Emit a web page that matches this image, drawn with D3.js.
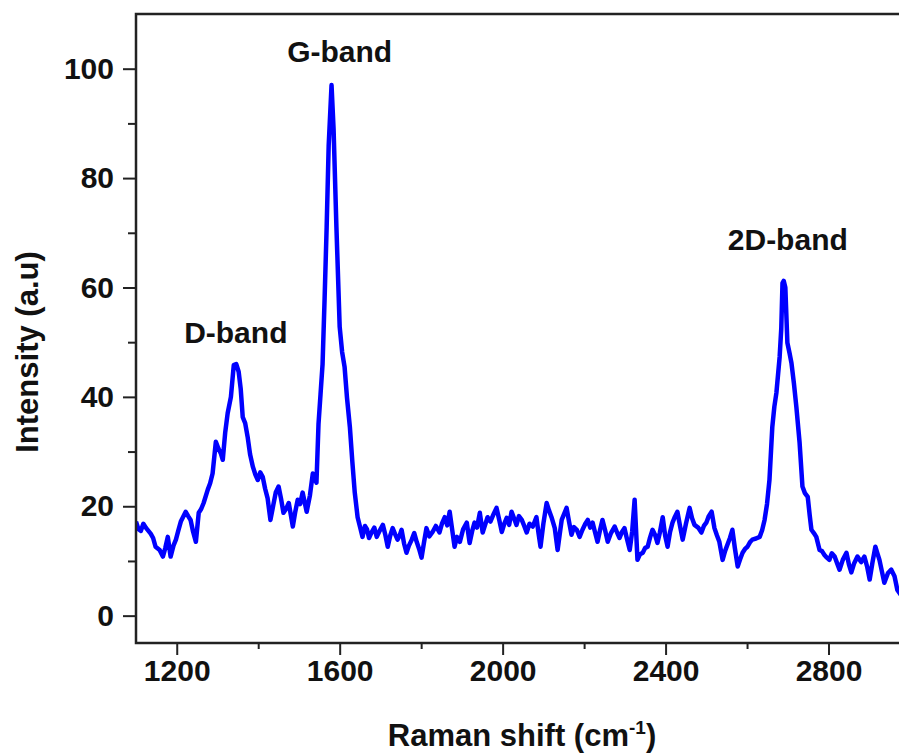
<!DOCTYPE html>
<html lang="en">
<head>
  <meta charset="UTF-8">
  <title>Raman spectrum</title>
  <script src="https://d3js.org/d3.v7.min.js"></script>
  <style>
    body { margin: 0; background: #fff; }
    svg { display: block; font-family: "Liberation Sans", Arial, sans-serif; }
  </style>
</head>
<body>
  <svg></svg>
  <script>
    // Raman shift (cm-1) and intensity (a.u)
    const shift = [1100, 1106, 1112, 1118, 1125, 1136, 1142, 1148, 1158, 1166, 1172, 1178, 1185, 1192, 1198, 1204, 1210, 1222, 1228, 1234,
      1240, 1247, 1254, 1260, 1266, 1276, 1282, 1288, 1296, 1302, 1308, 1313, 1319, 1325, 1333, 1340, 1346, 1352, 1357, 1362,
      1368, 1374, 1380, 1387, 1393, 1399, 1405, 1411, 1417, 1423, 1430, 1437, 1443, 1450, 1456, 1462, 1469, 1475, 1485, 1491,
      1497, 1503, 1509, 1519, 1527, 1534, 1543, 1548, 1553, 1558, 1563, 1568, 1573, 1580, 1585, 1592, 1600, 1606, 1612, 1618,
      1625, 1631, 1637, 1644, 1650, 1656, 1662, 1667, 1672, 1678, 1685, 1691, 1698, 1706, 1712, 1718, 1724, 1730, 1736, 1742,
      1747, 1752, 1758, 1764, 1770, 1777, 1783, 1789, 1795, 1801, 1807, 1813, 1820, 1828, 1836, 1845, 1851, 1858, 1864, 1870,
      1876, 1882, 1888, 1895, 1903, 1912, 1919, 1925, 1931, 1937, 1944, 1951, 1957, 1963, 1970, 1978, 1985, 1992, 1998, 2004,
      2010, 2016, 2022, 2028, 2034, 2040, 2047, 2053, 2059, 2066, 2074, 2083, 2088, 2093, 2100, 2108, 2114, 2120, 2128, 2135,
      2140, 2145, 2151, 2157, 2163, 2169, 2175, 2182, 2189, 2196, 2203, 2209, 2215, 2221, 2227, 2233, 2239, 2245, 2251, 2258,
      2266, 2275, 2281, 2287, 2293, 2299, 2305, 2312, 2318, 2324, 2331, 2337, 2344, 2350, 2356, 2362, 2368, 2374, 2380, 2386,
      2393, 2399, 2405, 2411, 2417, 2423, 2429, 2436, 2442, 2450, 2459, 2465, 2471, 2480, 2488, 2494, 2500, 2506, 2513, 2520,
      2526, 2532, 2540, 2546, 2552, 2558, 2564, 2570, 2577, 2583, 2589, 2595, 2601, 2607, 2613, 2622, 2631, 2637, 2643, 2649,
      2655, 2662, 2667, 2672, 2680, 2684, 2687, 2690, 2694, 2699, 2704, 2709, 2715, 2721, 2729, 2736, 2742, 2749, 2754, 2758,
      2764, 2770, 2778, 2784, 2790, 2796, 2802, 2808, 2815, 2821, 2827, 2835, 2844, 2850, 2856, 2863, 2871, 2880, 2888, 2895,
      2901, 2908, 2915, 2920, 2925, 2931, 2937, 2946, 2954, 2962, 2969, 2980];
    const intensity = [17.2, 15.8, 15.5, 16.8, 16, 15, 14.2, 12.6, 12, 10.8, 12.4, 14.4, 10.8, 12.8, 13.9, 15.6, 17.2, 19, 18.2, 17.5,
      15.4, 13.5, 18.8, 19.5, 20.6, 23, 24.2, 26, 31.8, 30.6, 29.7, 28.5, 33.5, 37, 40, 45.8, 46, 44.6, 41.5, 36.3,
      35.2, 32.7, 29.5, 27.2, 25.8, 24.8, 26.2, 25.4, 23.2, 21.5, 17.5, 20.2, 22.5, 23.6, 21.4, 18.8, 19.6, 20.6, 16.3, 19,
      21.2, 20.4, 22.5, 19, 22, 26, 24.3, 35, 40.5, 46, 58, 71, 86, 97, 89, 71, 52.8, 48.2, 45.5, 39.8,
      34.5, 28.2, 22.5, 18, 16.2, 14.4, 16.4, 15.8, 14.2, 15.2, 16.1, 14.4, 15.5, 16.6, 14.8, 12.6, 14.6, 16, 14.9, 13.9,
      14.6, 15.7, 13.2, 11.5, 12.8, 13.9, 15.1, 13.5, 12.2, 10.6, 13.4, 16, 14.5, 15.3, 16.4, 15.2, 16.8, 18, 16.5, 19,
      15.8, 12.6, 14.4, 13.5, 15.8, 17, 13.3, 15.4, 17, 16.1, 18.8, 15.2, 16.6, 18, 17.2, 18.6, 19.7, 17.4, 15.3, 16.8,
      17.9, 16.6, 19, 17.8, 16.6, 18.2, 17.5, 16.4, 15.2, 16.8, 16.3, 18, 15.1, 12.6, 16.8, 20.6, 19.2, 18, 16, 12,
      14.8, 17.5, 18.6, 19.7, 17.2, 14.8, 16.2, 15.7, 14.4, 15.7, 16.8, 17.5, 16.1, 17, 15.2, 13.5, 15.6, 17.5, 15.8, 13.5,
      15.1, 16.3, 15.2, 14.2, 15.3, 16, 14.1, 12, 15.4, 21.2, 10.2, 11.2, 11.5, 12.4, 12.6, 14.3, 15.7, 14.8, 13.3, 15.2,
      18, 14.6, 12.6, 15.3, 17, 18.1, 19, 16.2, 13.9, 16.8, 19.7, 17.8, 16.6, 16.1, 15.2, 16.4, 17, 18.2, 19, 16,
      14.7, 13.5, 10.2, 11.8, 13, 14.2, 15.7, 12.4, 9, 10.3, 11.5, 12.2, 12.6, 13.4, 13.9, 14.1, 14.4, 15.6, 17.5, 20.4,
      24.8, 34.5, 38.2, 40.7, 47.3, 52.5, 60.8, 61.2, 60, 49.9, 48.1, 46.2, 42.5, 38.2, 31.6, 23.6, 22.4, 21.7, 18.2, 15.7,
      15.1, 14.4, 12, 11.8, 11.1, 10.6, 10.2, 11.4, 10.8, 9.6, 8.4, 10.2, 11.5, 9.4, 7.9, 9.6, 10.8, 9.8, 10.8, 8.9,
      6.6, 9.8, 12.6, 11.4, 10.2, 8.1, 6, 7.8, 8.4, 7.2, 4.7, 3.5];

    const xMajor = [1200, 1600, 2000, 2400, 2800];
    const xMinor = [1400, 1800, 2200, 2600];
    const yMajor = [0, 20, 40, 60, 80, 100];
    const yMinor = [10, 30, 50, 70, 90];

    const bandNames = ["D-band", "G-band", "2D-band"];
    const bandShift = [1345, 1600, 2700];
    const bandLabelY = [49.8, 101.2, 66.8];   // label baseline in intensity units

    const W = 899, H = 755;
    const margin = { top: 14, left: 136, bottom: 112 };
    const plotRight = 910; // the frame runs past the right edge of the picture

    const svg = d3.select("svg").attr("width", W).attr("height", H);

    const x = d3.scaleLinear().domain([1100, 3000]).range([margin.left, plotRight]);
    const y = d3.scaleLinear().domain([-5, 110]).range([H - margin.bottom, margin.top]);

    const data = shift.map((s, i) => ({ s, v: intensity[i] }));

    svg.append("clipPath").attr("id", "clip")
      .append("rect")
      .attr("x", margin.left).attr("y", margin.top)
      .attr("width", plotRight - margin.left).attr("height", H - margin.bottom - margin.top);

    const line = d3.line().x(d => x(d.s)).y(d => y(d.v));

    svg.append("path")
      .datum(data)
      .attr("clip-path", "url(#clip)")
      .attr("fill", "none")
      .attr("stroke", "#0000ff")
      .attr("stroke-width", 4.5)
      .attr("stroke-linejoin", "round")
      .attr("d", line);

    // axes
    const styleAxis = g => {
      g.select(".domain").remove();
      g.selectAll(".tick line").attr("stroke", "#222").attr("stroke-width", 2);
      g.selectAll(".tick text")
        .attr("fill", "#111")
        .style("font-size", "30px")
        .style("font-weight", "bold");
    };

    svg.append("g")
      .attr("transform", `translate(0,${H - margin.bottom})`)
      .call(d3.axisBottom(x).tickValues(xMajor).tickSize(12).tickPadding(5).tickFormat(d3.format("d")))
      .call(styleAxis);

    svg.append("g")
      .attr("transform", `translate(0,${H - margin.bottom})`)
      .call(d3.axisBottom(x).tickValues(xMinor).tickSize(6).tickFormat(""))
      .call(styleAxis);

    svg.append("g")
      .attr("transform", `translate(${margin.left},0)`)
      .call(d3.axisLeft(y).tickValues(yMajor).tickSize(13).tickPadding(9))
      .call(styleAxis);

    svg.append("g")
      .attr("transform", `translate(${margin.left},0)`)
      .call(d3.axisLeft(y).tickValues(yMinor).tickSize(8).tickFormat(""))
      .call(styleAxis);

    // frame
    svg.append("rect")
      .attr("x", margin.left).attr("y", margin.top)
      .attr("width", plotRight - margin.left).attr("height", H - margin.bottom - margin.top)
      .attr("fill", "none").attr("stroke", "#222").attr("stroke-width", 2.5);

    // band labels
    svg.append("g")
      .selectAll("text")
      .data(bandNames)
      .join("text")
      .attr("x", (d, i) => x(bandShift[i]))
      .attr("y", (d, i) => y(bandLabelY[i]))
      .attr("text-anchor", "middle")
      .attr("fill", "#111")
      .style("font-size", "30px")
      .style("font-weight", "bold")
      .text(d => d);

    // axis titles
    const xt = svg.append("text")
      .attr("x", 522).attr("y", 746)
      .attr("text-anchor", "middle")
      .attr("fill", "#111")
      .style("font-size", "31px")
      .style("font-weight", "bold")
      .text("Raman shift (cm");
    xt.append("tspan").attr("dy", -12).style("font-size", "19px").text("-1");
    xt.append("tspan").attr("dy", 12).text(")");

    svg.append("text")
      .attr("transform", "translate(38,352) rotate(-90)")
      .attr("text-anchor", "middle")
      .attr("fill", "#111")
      .style("font-size", "31px")
      .style("font-weight", "bold")
      .text("Intensity (a.u)");
  </script>
</body>
</html>
